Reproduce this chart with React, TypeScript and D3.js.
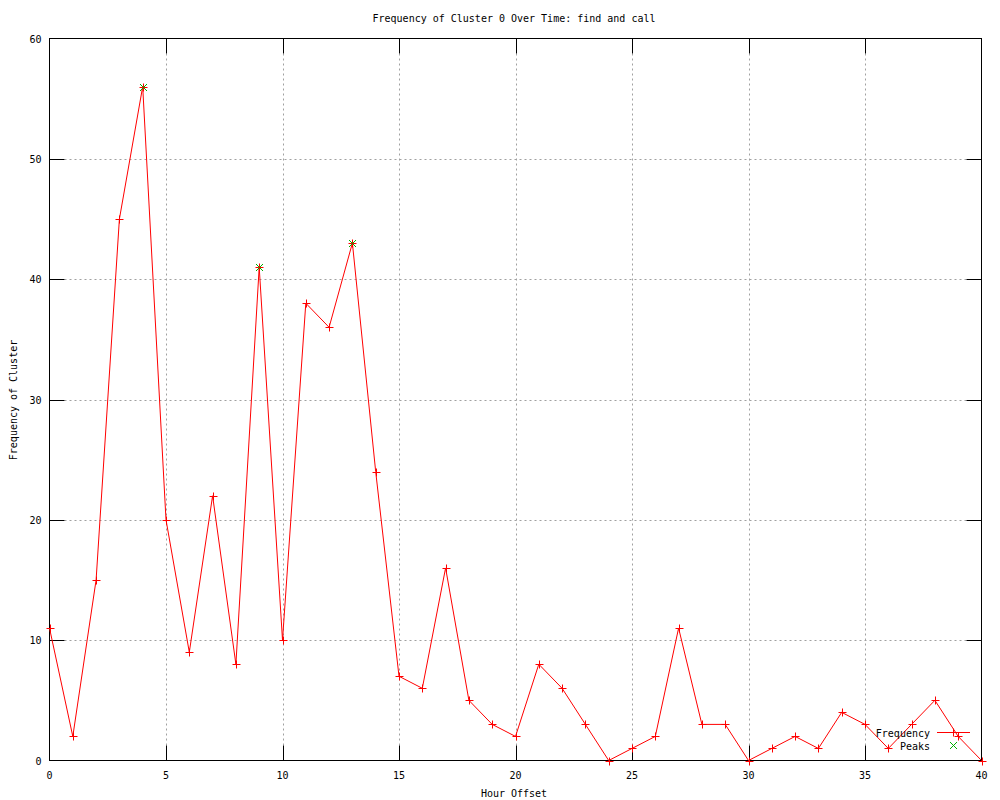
import React, { useRef, useEffect } from 'react';
import * as d3 from 'd3';

const hours = d3.range(0, 41);
const frequency = [11, 2, 15, 45, 56, 20, 9, 22, 8, 41, 10, 38, 36, 43, 24, 7, 6, 16, 5, 3, 2, 8, 6, 3, 0, 1, 2, 11, 3, 3, 0, 1, 2, 1, 4, 3, 1, 3, 5, 2, 0];
const peakHours = [4, 9, 13];
const peakValues = [56, 41, 43];
const xTicks = [0, 5, 10, 15, 20, 25, 30, 35, 40];
const yTicks = [0, 10, 20, 30, 40, 50, 60];

const FONT = '"DejaVu Sans Mono", monospace';

const App = () => {
  const svgRef = useRef<SVGSVGElement>(null);

  useEffect(() => {
    const svg = d3.select(svgRef.current);
    svg.selectAll('*').remove();
    const width = 1000;
    const height = 800;
    const margin = { top: 38.5, right: 18.5, bottom: 39.5, left: 49.5 };
    const tick = 15;

    const x = d3.scaleLinear().domain([0, 40]).range([margin.left, width - margin.right]);
    const y = d3.scaleLinear().domain([0, 60]).range([height - margin.bottom, margin.top]);

    svg.append('rect').attr('width', width).attr('height', height).attr('fill', '#fff');

    // grid
    const grid = svg.append('g').attr('stroke', '#a0a0a0').attr('stroke-dasharray', '2,3').attr('stroke-width', 1);
    xTicks.slice(1, -1).forEach(t => {
      grid.append('line').attr('x1', Math.round(x(t)) + 0.5).attr('x2', Math.round(x(t)) + 0.5)
        .attr('y1', y(60) + tick).attr('y2', y(0) - tick);
    });
    yTicks.slice(1, -1).forEach(t => {
      grid.append('line').attr('y1', Math.round(y(t)) + 0.5).attr('y2', Math.round(y(t)) + 0.5)
        .attr('x1', x(0) + tick).attr('x2', x(40) - tick);
    });

    // ticks (mirrored, inward)
    const ticks = svg.append('g').attr('stroke', '#000').attr('stroke-width', 1);
    xTicks.slice(1, -1).forEach(t => {
      const xx = Math.round(x(t)) + 0.5;
      ticks.append('line').attr('x1', xx).attr('x2', xx).attr('y1', y(0)).attr('y2', y(0) - tick);
      ticks.append('line').attr('x1', xx).attr('x2', xx).attr('y1', y(60)).attr('y2', y(60) + tick);
    });
    yTicks.slice(1, -1).forEach(t => {
      const yy = Math.round(y(t)) + 0.5;
      ticks.append('line').attr('y1', yy).attr('y2', yy).attr('x1', x(0)).attr('x2', x(0) + tick);
      ticks.append('line').attr('y1', yy).attr('y2', yy).attr('x1', x(40)).attr('x2', x(40) - tick);
    });

    // border
    svg.append('rect')
      .attr('x', x(0)).attr('y', y(60))
      .attr('width', x(40) - x(0)).attr('height', y(0) - y(60))
      .attr('fill', 'none').attr('stroke', '#000');

    // tick labels
    xTicks.forEach(t => {
      svg.append('text').attr('x', x(t)).attr('y', y(0) + 18)
        .attr('text-anchor', 'middle').style('font-family', FONT).style('font-size', '10px').text(t);
    });
    yTicks.forEach(t => {
      svg.append('text').attr('x', x(0) - 8).attr('y', y(t) + 4)
        .attr('text-anchor', 'end').style('font-family', FONT).style('font-size', '10px').text(t);
    });

    // titles
    svg.append('text').attr('x', 514).attr('y', 22).attr('text-anchor', 'middle')
      .style('font-family', FONT).style('font-size', '10px').text('Frequency of Cluster 0 Over Time: find and call');
    svg.append('text').attr('x', 514).attr('y', 797).attr('text-anchor', 'middle')
      .style('font-family', FONT).style('font-size', '10px').text('Hour Offset');
    svg.append('text').attr('transform', 'translate(17,400) rotate(-90)').attr('text-anchor', 'middle')
      .style('font-family', FONT).style('font-size', '10px').text('Frequency of Cluster');

    // frequency line
    const line = d3.line<number>().x((d, i) => x(hours[i])).y(d => y(d));
    svg.append('path').datum(frequency).attr('fill', 'none').attr('stroke', '#ff0000').attr('stroke-width', 1).attr('d', line);

    const plus = (g: any, cx: number, cy: number, color: string) => {
      g.append('path').attr('d', `M${cx - 4},${cy}H${cx + 4}M${cx},${cy - 4}V${cy + 4}`)
        .attr('stroke', color).attr('fill', 'none');
    };
    const cross = (g: any, cx: number, cy: number, color: string) => {
      g.append('path').attr('d', `M${cx - 3.5},${cy - 3.5}L${cx + 3.5},${cy + 3.5}M${cx - 3.5},${cy + 3.5}L${cx + 3.5},${cy - 3.5}`)
        .attr('stroke', color).attr('fill', 'none');
    };

    const marks = svg.append('g');
    frequency.forEach((v, i) => plus(marks, Math.round(x(hours[i])) + 0.5, Math.round(y(v)) + 0.5, '#ff0000'));

    // peaks
    const peaks = svg.append('g');
    peakHours.forEach((h, i) => {
      cross(peaks, Math.round(x(h)) + 0.5, Math.round(y(peakValues[i])) + 0.5, '#00b000');
    });

    // legend
    const lg = svg.append('g');
    lg.append('text').attr('x', 930).attr('y', 737).attr('text-anchor', 'end')
      .style('font-family', FONT).style('font-size', '10px').text('Frequency');
    lg.append('line').attr('x1', 937).attr('x2', 970).attr('y1', 732.5).attr('y2', 732.5).attr('stroke', '#ff0000');
    plus(lg, 953.5, 732.5, '#ff0000');
    lg.append('text').attr('x', 930).attr('y', 750).attr('text-anchor', 'end')
      .style('font-family', FONT).style('font-size', '10px').text('Peaks');
    cross(lg, 953.5, 745.5, '#00b000');
  }, []);

  return (
    <div style={{ width: 1000, height: 800 }}>
      <svg ref={svgRef} width={1000} height={800} style={{ display: 'block', position: 'absolute', left: 0, top: 0 }}></svg>
    </div>
  );
};

export default App;
